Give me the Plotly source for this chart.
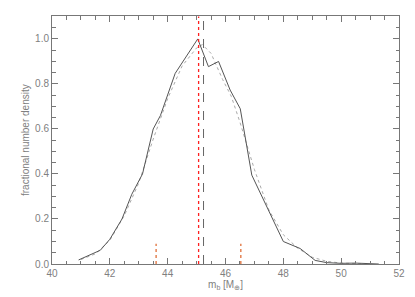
import plotly.graph_objects as go

# Data
mass_solid = [40.92, 41.67, 42.00, 42.42, 42.76, 43.13, 43.50, 43.75, 44.26, 45.04, 45.41,
              45.76, 46.16, 46.51, 46.91, 48.00, 48.58, 49.10, 49.50, 50.00, 50.50, 51.00, 51.30]
dens_solid = [0.018, 0.061, 0.110, 0.200, 0.310, 0.400, 0.600, 0.660, 0.847, 1.000, 0.877,
              0.900, 0.773, 0.690, 0.395, 0.100, 0.069, 0.016, 0.006, 0.003, 0.004, 0.002, 0.000]

mass_fit = [41.0, 41.5, 42.0, 42.5, 43.0, 43.5, 44.0, 44.5, 45.0, 45.2, 45.5, 45.9, 46.2,
            46.5, 47.0, 47.5, 48.0, 48.5, 49.0, 49.5, 50.0, 50.5, 51.0]
dens_fit = [0.020, 0.045, 0.105, 0.215, 0.360, 0.555, 0.735, 0.880, 0.960, 0.975, 0.936,
            0.820, 0.745, 0.630, 0.420, 0.240, 0.130, 0.070, 0.030, 0.012, 0.004, 0.001, 0.000]

median_x = [45.07, 45.07]
median_y = [0.0, 1.1]
mean_x = [45.24, 45.24]
mean_y = [0.0, 1.1]
lo_x = [43.60, 43.60]
hi_x = [46.53, 46.53]
pct_y = [0.0, 0.09]

y_title = "fractional number density"
x_title = "m<sub>b</sub> [M<sub>⊕</sub>]"

fig = go.Figure()
fig.add_trace(go.Scatter(x=mass_fit, y=dens_fit, mode="lines",
                         line=dict(color="#aaaaaa", width=1, dash="dot")))
fig.add_trace(go.Scatter(x=mass_solid, y=dens_solid, mode="lines",
                         line=dict(color="#555555", width=1)))
fig.add_trace(go.Scatter(x=median_x, y=median_y, mode="lines",
                         line=dict(color="#ff2020", width=1.3, dash="dot")))
fig.add_trace(go.Scatter(x=mean_x, y=mean_y, mode="lines",
                         line=dict(color="#666666", width=1, dash="dash")))
fig.add_trace(go.Scatter(x=lo_x, y=pct_y, mode="lines",
                         line=dict(color="#e0703a", width=1.3, dash="dot")))
fig.add_trace(go.Scatter(x=hi_x, y=pct_y, mode="lines",
                         line=dict(color="#e0703a", width=1.3, dash="dot")))

axis_common = dict(showgrid=False, zeroline=False, showline=True, linecolor="#777777",
                   linewidth=1, ticks="inside", tickcolor="#777777", ticklen=6,
                   tickwidth=1, mirror="ticks", automargin=False,
                   tickfont=dict(family="Liberation Sans", size=10, color="#808080"))

fig.update_layout(
    width=415, height=297,
    margin=dict(l=52, r=16, t=16, b=33),
    paper_bgcolor="white", plot_bgcolor="white",
    showlegend=False,
    font=dict(family="Liberation Sans", color="#808080"),
    xaxis=dict(range=[40, 52], dtick=2, tick0=40,
               minor=dict(dtick=0.5, ticklen=3.5, ticks="inside", tickcolor="#777777"),
               title=dict(text=x_title, standoff=1,
                          font=dict(size=10, color="#808080")),
               **axis_common),
    yaxis=dict(range=[0, 1.102], dtick=0.2, tick0=0, tickformat=".1f",
               minor=dict(dtick=0.05, ticklen=3.5, ticks="inside", tickcolor="#777777"),
               **axis_common),
    annotations=[dict(text=y_title, xref="paper", yref="paper", x=0, y=0.5,
                      xanchor="center", yanchor="middle", xshift=-27, textangle=-90,
                      showarrow=False, font=dict(size=10, color="#808080"))],
)

fig.write_html("out.html", config={"displayModeBar": False, "staticPlot": True},
               post_script="document.body.style.margin='0';document.body.style.overflow='hidden';")
